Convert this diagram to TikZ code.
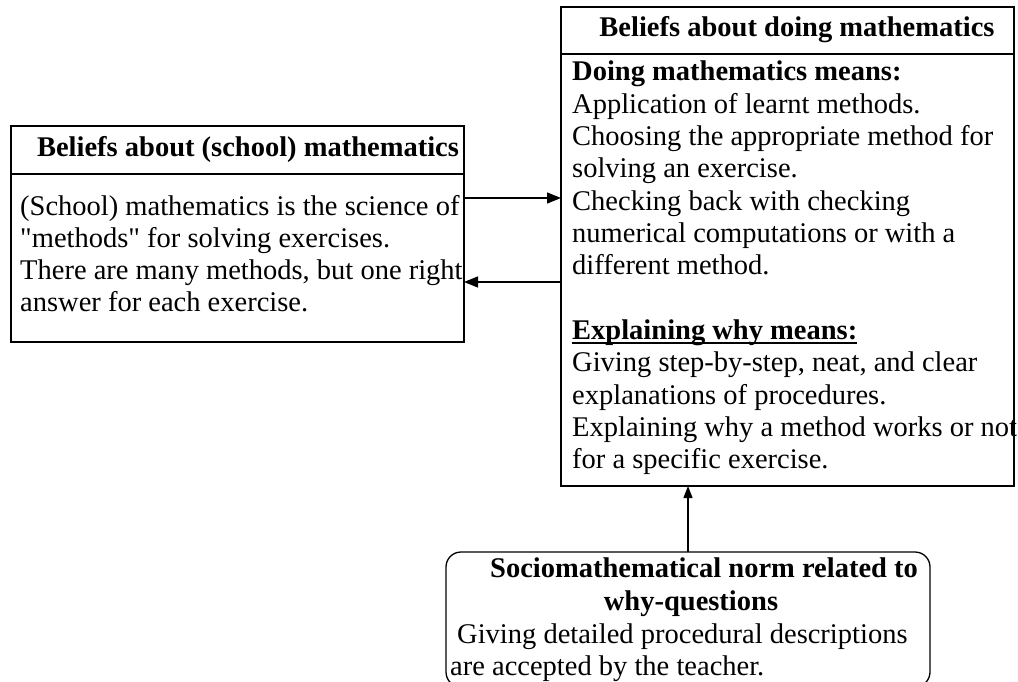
\documentclass[tikz,border=0pt]{standalone}
\usepackage{fontspec}
\setmainfont{Liberation Serif}[Ligatures=TeXOff]
\usetikzlibrary{arrows.meta}
\begin{document}
\begin{tikzpicture}[x=1pt,y=-1pt,
  box/.style={draw, line width=1.3pt, inner sep=0pt, outer sep=0pt, anchor=north west},
  rule/.style={line width=1.3pt},
  txt/.style={inner sep=0pt, anchor=base west, font=\fontsize{28.5}{32}\selectfont},
  btxt/.style={inner sep=0pt, anchor=base west, font=\fontsize{28.5}{32}\selectfont\bfseries},
  hd/.style={inner sep=0pt, anchor=base, font=\fontsize{28.5}{32}\selectfont\bfseries},
  conn/.style={line width=1.3pt, -{Triangle[length=14pt,width=11pt]}},
  connv/.style={line width=1.3pt, -{Triangle[length=12pt,width=9pt]}}]
\useasboundingbox (0,0) rectangle (1018,682);
\clip (0,0) rectangle (1018,682);
\fill[white] (0,0) rectangle (1018,682);

% helper coordinates
\coordinate (ya) at (0,198);
\coordinate (yb) at (0,282);
\coordinate (yl) at (0,174);
\coordinate (yr) at (0,54);
\coordinate (vx) at (688,0);

% boxes
\node[box, minimum width=453pt, minimum height=216pt] (lb) at (11,126) {};
\draw[rule] (lb.west |- yl) -- (lb.east |- yl);
\node[box, minimum width=453pt, minimum height=479pt] (rb) at (561,7) {};
\draw[rule] (rb.west |- yr) -- (rb.east |- yr);
\node[box, rounded corners=15pt, minimum width=484pt, minimum height=135pt] (nb) at (446,552) {};

% left box text
\node[hd] (lh) at (248,157) {Beliefs about (school) mathematics};
\node[txt] (l1) at (20,215) {(School) mathematics is the science of};
\node[txt] (l2) at (20,247) {"methods" for solving exercises.};
\node[txt] (l3) at (20,279) {There are many methods, but one right};
\node[txt] (l4) at (20,311) {answer for each exercise.};

% right box text
\node[hd] (rh) at (797,37) {Beliefs about doing mathematics};
\node[btxt] (r1) at (572,81) {Doing mathematics means:};
\node[txt] (r2) at (572,113.3) {Application of learnt methods.};
\node[txt] (r3) at (572,145.6) {Choosing the appropriate method for};
\node[txt] (r4) at (572,177.9) {solving an exercise.};
\node[txt] (r5) at (572,210.2) {Checking back with checking};
\node[txt] (r6) at (572,242.5) {numerical computations or with a};
\node[txt] (r7) at (572,274.8) {different method.};
\node[btxt] (r8) at (572,339.4) {Explaining why means:};
\draw[line width=1.2pt] ([yshift=-3.5pt]r8.base west) -- ([yshift=-3.5pt]r8.base east);
\node[txt] (r9) at (572,371.7) {Giving step-by-step, neat, and clear};
\node[txt] (r10) at (572,404) {explanations of procedures.};
\node[txt] (r11) at (572,436.3) {Explaining why a method works or not};
\node[txt] (r12) at (572,468.6) {for a specific exercise.};

% norm box text
\node[hd] (n1) at (704,577) {Sociomathematical norm related to};
\node[hd] (n2) at (691,610) {why-questions};
\node[txt] (n3) at (457,643) {Giving detailed procedural descriptions};
\node[txt] (n4) at (450,675) {are accepted by the teacher.};

% connectors
\draw[conn] (lb.east |- ya) -- (rb.west |- ya);
\draw[conn] (rb.west |- yb) -- (lb.east |- yb);
\draw[connv] (nb.north -| vx) -- (rb.south -| vx);
\end{tikzpicture}
\end{document}
